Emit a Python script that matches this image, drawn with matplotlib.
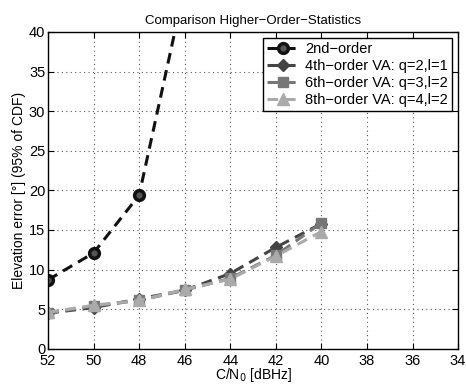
import matplotlib.pyplot as plt

cn0 = [52, 50, 48, 46, 44, 42, 40]
cn0_2nd = [52, 50, 48, 46]
err_2nd = [8.7, 12.1, 19.4, 45.7]
err_4th = [4.5, 5.2, 6.3, 7.4, 9.5, 12.8, 15.8]
err_6th = [4.5, 5.4, 6.1, 7.4, 8.9, 11.8, 15.9]
err_8th = [4.6, 5.5, 6.1, 7.5, 8.8, 11.7, 14.8]

labels = ['2nd\u2212order',
          '4th\u2212order VA: q=2,l=1',
          '6th\u2212order VA: q=3,l=2',
          '8th\u2212order VA: q=4,l=2']

plt.rcParams['font.family'] = ['Liberation Sans', 'DejaVu Sans']

fig = plt.figure(figsize=(4.66, 3.85), dpi=100)
ax = fig.add_axes([0.103, 0.094, 0.880, 0.823])

dash = (3.5, 2.2)
ax.plot(cn0_2nd, err_2nd, '--', color='#111111', lw=2.2, dashes=dash,
        marker='o', ms=7, mfc='#555555', mec='#111111', mew=2.5, label=labels[0])
ax.plot(cn0, err_4th, '--', color='#444444', lw=2.2, dashes=dash,
        marker='D', ms=6, mfc='#444444', mec='#444444', label=labels[1])
ax.plot(cn0, err_6th, '--', color='#777777', lw=2.2, dashes=dash,
        marker='s', ms=6.5, mfc='#777777', mec='#777777', label=labels[2])
ax.plot(cn0, err_8th, '--', color='#aaaaaa', lw=2.2, dashes=dash,
        marker='^', ms=9, mfc='#aaaaaa', mec='#aaaaaa', label=labels[3])

ax.set_xlim(52, 34)
ax.set_ylim(0, 40)
ax.set_xticks(range(52, 33, -2))
ax.set_yticks(range(0, 41, 5))
ax.tick_params(direction='in', top=True, right=True, labelsize=10.5, length=4, pad=2)
ax.tick_params(axis='x', pad=3.5)
ax.grid(True, linestyle=(0, (1, 3)), color='#555555', lw=0.8)
for s in ax.spines.values():
    s.set_linewidth(1.0)

ax.set_title('Comparison Higher\u2212Order\u2212Statistics', fontsize=9.5)
ax.set_xlabel('C/N$_0$ [dBHz]', fontsize=10, labelpad=-1)
ax.set_ylabel('Elevation error [\u00b0] (95% of CDF)', fontsize=10, labelpad=2)

leg = ax.legend(loc='upper right', fontsize=10.5, handlelength=2.2,
                handletextpad=0.4, borderpad=0.3, labelspacing=0.2,
                fancybox=False, framealpha=1, edgecolor='black',
                borderaxespad=0.4)
leg.get_frame().set_linewidth(1.0)

fig.savefig('out.png', dpi=100)
